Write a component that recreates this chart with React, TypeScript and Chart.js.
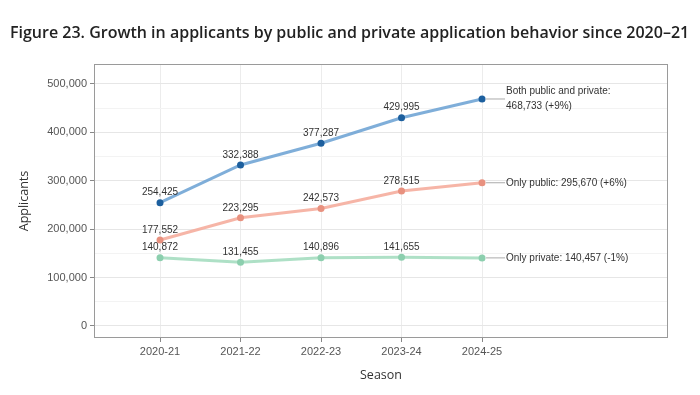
import React, { useEffect, useRef } from "react";
import { Chart, registerables } from "chart.js";

Chart.register(...registerables);

const seasons = ["2020-21", "2021-22", "2022-23", "2023-24", "2024-25"];
const bothValues = [254425, 332388, 377287, 429995, 468733];
const publicValues = [177552, 223295, 242573, 278515, 295670];
const privateValues = [140872, 131455, 140896, 141655, 140457];
const endLabels = [
  ["Both public and private:", "468,733 (+9%)"],
  ["Only public: 295,670 (+6%)"],
  ["Only private: 140,457 (-1%)"],
];
const yTicks = [0, 50000, 100000, 150000, 200000, 250000, 300000, 350000, 400000, 450000, 500000];
const titleText = "Figure 23. Growth in applicants by public and private application behavior since 2020\u201321";

const fmt = (v: number) => v.toLocaleString("en-US");

export default function App() {
  const ref = useRef<HTMLCanvasElement>(null);
  useEffect(() => {
    document.body.style.margin = "0";
    const ctx = ref.current!.getContext("2d")!;
    const series = [bothValues, publicValues, privateValues];
    const lineColors = ["rgba(105,160,210,0.85)", "rgba(245,168,152,0.85)", "rgba(160,218,188,0.85)"];
    const pointColors = ["#1c5f9e", "#e8917f", "#8ccfae"];

    const overlay = {
      id: "overlay",
      afterDraw(chart: any) {
        const c = chart.ctx;
        const { left, right, top, bottom } = chart.chartArea;
        const xs = chart.scales.x;
        const ys = chart.scales.y;
        c.save();
        // panel border
        c.strokeStyle = "#9a9a9a";
        c.lineWidth = 1;
        c.strokeRect(left + 0.5, top + 0.5, right - left - 1, bottom - top - 1);
        // title
        c.fillStyle = "#222";
        c.font = "600 16px 'Open Sans'";
        c.textAlign = "left";
        c.textBaseline = "middle";
        c.fillText(titleText, 10, 33);
        // axis titles
        c.font = "12.5px 'Open Sans'";
        c.fillStyle = "#333";
        c.textAlign = "center";
        c.fillText("Season", (left + right) / 2, 375);
        c.save();
        c.translate(24, (top + bottom) / 2);
        c.rotate(-Math.PI / 2);
        c.fillText("Applicants", 0, 0);
        c.restore();
        // data labels
        c.font = "10px 'Liberation Sans'";
        c.fillStyle = "#333";
        series.forEach((vals) => {
          vals.forEach((v, i) => {
            if (i === vals.length - 1) return;
            c.fillText(fmt(v), xs.getPixelForValue(i), ys.getPixelForValue(v) - 10);
          });
        });
        // end labels
        c.textAlign = "left";
        series.forEach((vals, si) => {
          const last = vals.length - 1;
          const px = xs.getPixelForValue(last);
          const py = ys.getPixelForValue(vals[last]);
          c.strokeStyle = "#aaa";
          c.beginPath();
          c.moveTo(px + 4, py);
          c.lineTo(px + 23, py);
          c.stroke();
          const lines = endLabels[si];
          const lh = 15;
          lines.forEach((t, li) => {
            c.fillText(t, px + 24, py + (li - (lines.length - 1) / 2) * lh);
          });
        });
        c.restore();
      },
    };

    const chart = new Chart(ctx, {
      type: "line",
      data: {
        datasets: series.map((vals, si) => ({
          data: vals.map((v, i) => ({ x: i, y: v })),
          borderColor: lineColors[si],
          borderWidth: 3,
          pointBackgroundColor: pointColors[si],
          pointBorderColor: pointColors[si],
          pointBorderWidth: 0,
          pointRadius: 3.5,
          tension: 0,
        })),
      },
      options: {
        animation: false,
        responsive: false,
        layout: { padding: { left: 0, right: 32, top: 64, bottom: 0 } },
        plugins: { legend: { display: false }, tooltip: { enabled: false } },
        scales: {
          x: {
            type: "linear",
            min: -0.82,
            max: 6.31,
            afterBuildTicks: (s: any) => {
              s.ticks = seasons.map((_, i) => ({ value: i }));
            },
            afterFit: (s: any) => {
              s.height = 57;
            },
            ticks: {
              callback: (v: any) => seasons[v],
              color: "#555",
              font: { family: "'Liberation Sans'", size: 11 },
              padding: 3,
              maxRotation: 0,
            },
            grid: { color: "#ececec", tickColor: "#888", tickLength: 4 },
            border: { display: false },
          },
          y: {
            min: -25000,
            max: 541000,
            afterBuildTicks: (s: any) => {
              s.ticks = yTicks.map((v) => ({ value: v }));
            },
            afterFit: (s: any) => {
              s.width = 94;
            },
            ticks: {
              callback: (v: any) => (v % 100000 === 0 ? fmt(v) : ""),
              color: "#555",
              font: { family: "'Liberation Sans'", size: 11 },
              padding: 3,
            },
            grid: {
              color: (c: any) => (c.tick && c.tick.value % 100000 === 0 ? "#e6e6e6" : "#f3f3f3"),
              tickColor: (c: any) => (c.tick && c.tick.value % 100000 === 0 ? "#888" : "rgba(0,0,0,0)"),
              tickLength: 4,
            },
            border: { display: false },
          },
        },
      },
      plugins: [overlay],
    } as any);
    return () => chart.destroy();
  }, []);
  return <canvas ref={ref} width={700} height={395} style={{ display: "block" }} />;
}
